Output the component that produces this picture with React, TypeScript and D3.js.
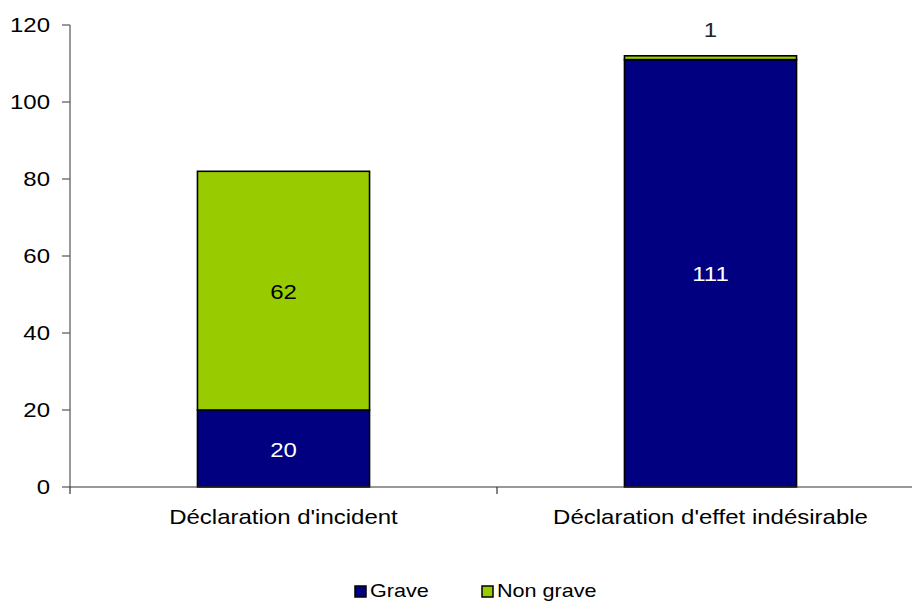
import React from "react";
import * as d3 from "d3";

const categories = ["Déclaration d'incident", "Déclaration d'effet indésirable"];
const series = ["Grave", "Non grave"];
const grave = [20, 111];
const nonGrave = [62, 1];
const yTicks = [0, 20, 40, 60, 80, 100, 120];
const colors = ["#000080", "#99CC00"];

const W = 912, H = 603;
const x0 = 70, x1 = 924, yTop = 25, yBot = 487;
const FONT = "Liberation Sans, Arial, sans-serif";
const SX = 1.2;

function T({ x, y, anchor = "start", fill = "#000", size = 20, children }: any) {
  return (
    <text transform={`translate(${x},${y}) scale(${SX},1)`} dy="0.35em" textAnchor={anchor} fontSize={size} fill={fill}>
      {children}
    </text>
  );
}

export default function App() {
  const x = d3.scaleBand<string>().domain(categories).range([x0, x1]).padding(0);
  const y = d3.scaleLinear().domain([0, 120]).range([yBot, yTop]);
  const bw = x.bandwidth() * 0.403;
  const rows = categories.map((c, i) => ({ c, vals: [grave[i], nonGrave[i]] }));
  const stack = d3.stack<any>().keys(["0", "1"]).value((d: any, k: string) => d.vals[+k]);
  const stacked = stack(rows as any);
  return (
    <svg width={W} height={H} style={{ position: "absolute", left: 0, top: 0, background: "#fff" }} fontFamily={FONT}>
      <line x1={x0} x2={x0} y1={y(120)} y2={y(0)} stroke="#555" strokeWidth={1.2} />
      {yTicks.map((t) => (
        <g key={t}>
          <line x1={x0 - 8} x2={x0} y1={y(t)} y2={y(t)} stroke="#555" strokeWidth={1.2} />
          <T x={x0 - 20} y={y(t)} anchor="end">{t}</T>
        </g>
      ))}
      {stacked.map((layer, si) =>
        layer.map((d, i) => {
          const cx = (x(categories[i]) as number) + x.bandwidth() / 2;
          const v = d[1] - d[0];
          const yc = (y(d[0]) + y(d[1])) / 2;
          return (
            <g key={si + "-" + i}>
              <rect x={cx - bw / 2} y={y(d[1])} width={bw} height={y(d[0]) - y(d[1])} fill={colors[si]} stroke="#000" strokeWidth={1.6} />
              {v >= 5 ? (
                <T x={cx} y={yc + 1} anchor="middle" fill={si === 0 ? "#fff" : "#000"}>{v}</T>
              ) : (
                <T x={cx} y={y(d[1]) - 26} anchor="middle" fill="#222">{v}</T>
              )}
            </g>
          );
        })
      )}
      <line x1={x0} x2={x1} y1={yBot} y2={yBot} stroke="#333" strokeWidth={1.2} />
      {[...categories.map((c) => x(c) as number), x1].map((p, i) => (
        <line key={i} x1={p} x2={p} y1={yBot} y2={yBot + 7} stroke="#333" strokeWidth={1.2} />
      ))}
      {categories.map((c) => (
        <T key={c} x={(x(c) as number) + x.bandwidth() / 2} y={517} anchor="middle">{c}</T>
      ))}
      {series.map((s, i) => {
        const lx = [355, 482][i];
        return (
          <g key={s}>
            <rect x={lx} y={586} width={11} height={11} fill={colors[i]} stroke="#000" strokeWidth={1.5} />
            <T x={lx + 15} y={591} size={18}>{s}</T>
          </g>
        );
      })}
    </svg>
  );
}
